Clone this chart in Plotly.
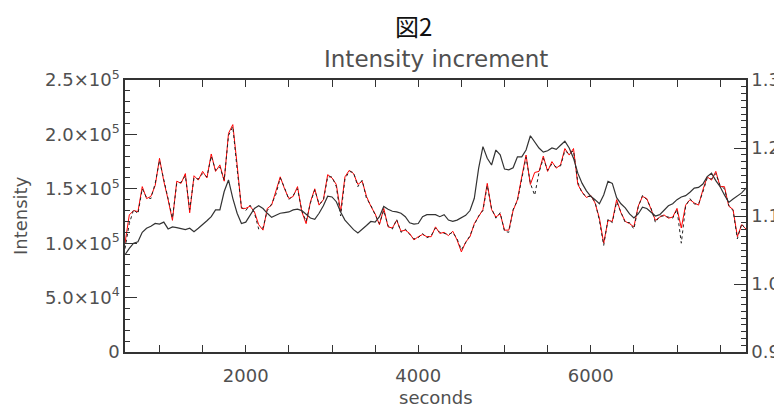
import plotly.graph_objects as go

# time sampling (seconds)
seconds = list(range(600, 7801, 50))

# noisy intensity (units of 1e3), red series
red_k = [
    100, 126, 130, 129, 152, 141, 143, 153, 178, 157,
    140, 121, 157, 155, 164, 128, 162, 158, 166, 160,
    182, 166, 172, 157, 201, 209, 172, 132, 132, 134,
    129, 117, 112, 132, 135, 147, 161, 150, 141, 143,
    152, 129, 118, 138, 150, 135, 140, 163, 160, 154,
    129, 161, 167, 164, 154, 157, 143, 134, 127, 117,
    132, 115, 114, 121, 111, 112, 109, 103, 106, 108,
    106, 106, 115, 109, 110, 107, 111, 103, 92, 101,
    106, 118, 124, 131, 155, 131, 124, 127, 112, 112,
    130, 140, 161, 181, 154, 165, 166, 180, 166, 175,
    169, 172, 187, 181, 187, 154, 147, 142, 144, 137,
    123, 100, 121, 120, 140, 128, 120, 118, 115, 134,
    143, 141, 131, 121, 124, 126, 123, 124, 132, 114,
    135, 140, 137, 135, 149, 161, 158, 166, 152, 152,
    134, 131, 106, 117, 113,
]

# noisy intensity (units of 1e3), black series
black_k = [
    95, 118, 131, 127, 150, 142, 141, 155, 176, 158,
    138, 123, 155, 156, 162, 131, 160, 159, 164, 161,
    180, 167, 170, 158, 199, 207, 168, 133, 130, 135,
    128, 113, 114, 130, 136, 145, 160, 151, 140, 144,
    150, 130, 120, 137, 149, 136, 139, 161, 161, 152,
    125, 159, 166, 165, 152, 158, 141, 135, 126, 118,
    130, 116, 113, 122, 110, 113, 108, 104, 105, 109,
    105, 107, 114, 110, 109, 108, 110, 104, 94, 100,
    107, 117, 125, 130, 153, 132, 123, 128, 111, 110,
    131, 139, 160, 179, 155, 144, 165, 178, 167, 173,
    170, 171, 185, 182, 185, 156, 146, 143, 143, 138,
    121, 98, 122, 119, 138, 129, 119, 119, 113, 133,
    144, 140, 132, 119, 125, 125, 124, 123, 131, 100,
    134, 141, 136, 136, 147, 160, 159, 164, 153, 150,
    135, 130, 104, 118, 112,
]

# smooth increment ratio (right axis)
ratio = [
    1.043, 1.0525, 1.060, 1.062, 1.076, 1.082, 1.085, 1.089, 1.088, 1.091,
    1.081, 1.084, 1.083, 1.082, 1.080, 1.082, 1.077, 1.082, 1.087, 1.093,
    1.099, 1.109, 1.109, 1.136, 1.153, 1.126, 1.104, 1.089, 1.091, 1.102,
    1.111, 1.115, 1.111, 1.104, 1.098, 1.101, 1.104, 1.105, 1.106, 1.109,
    1.110, 1.108, 1.103, 1.097, 1.095, 1.104, 1.115, 1.129, 1.128, 1.121,
    1.106, 1.094, 1.087, 1.080, 1.075, 1.080, 1.086, 1.092, 1.091, 1.099,
    1.114, 1.110, 1.107, 1.106, 1.104, 1.099, 1.090, 1.088, 1.089, 1.099,
    1.102, 1.102, 1.102, 1.099, 1.102, 1.094, 1.092, 1.094, 1.097, 1.101,
    1.108, 1.126, 1.170, 1.202, 1.185, 1.175, 1.197, 1.190, 1.169, 1.168,
    1.171, 1.187, 1.187, 1.197, 1.218, 1.209, 1.200, 1.194, 1.196, 1.200,
    1.198, 1.204, 1.210, 1.200, 1.185, 1.163, 1.148, 1.137, 1.129, 1.124,
    1.118, 1.131, 1.151, 1.148, 1.127, 1.118, 1.112, 1.103, 1.097, 1.103,
    1.113, 1.111, 1.105, 1.100, 1.102, 1.109, 1.115, 1.118, 1.124, 1.128,
    1.130, 1.135, 1.141, 1.142, 1.147, 1.158, 1.163, 1.152, 1.143, 1.131,
    1.120, 1.125, 1.129, 1.134, 1.141,
]

left_tickvals = [0, 50000, 100000, 150000, 200000, 250000]
left_ticktext = ["0", "5.0×10<sup>4</sup>", "1.0×10<sup>5</sup>",
                 "1.5×10<sup>5</sup>", "2.0×10<sup>5</sup>", "2.5×10<sup>5</sup>"]
right_tickvals = [0.9, 1.0, 1.1, 1.2, 1.3]
right_ticktext = ["0.9", "1.0", "1.1", "1.2", "1.3"]
x_tickvals = [2000, 4000, 6000]

red_v = [v * 1000 for v in red_k]
black_v = [v * 1000 for v in black_k]

FONT = "DejaVu Sans"
AX = "#333333"
TXT = "#505050"

fig = go.Figure()
fig.add_trace(go.Scatter(x=seconds, y=red_v, mode="lines",
                         line=dict(color="#ff0000", width=1), showlegend=False))
fig.add_trace(go.Scatter(x=seconds, y=black_v, mode="lines",
                         line=dict(color="#222222", width=1, dash="3px,3px"),
                         showlegend=False))
fig.add_trace(go.Scatter(x=seconds, y=ratio, mode="lines", yaxis="y2",
                         line=dict(color="#333333", width=1.2), showlegend=False))

fig.update_layout(
    width=782, height=407,
    margin=dict(l=117, r=44, t=72, b=63),
    paper_bgcolor="white", plot_bgcolor="white",
    font=dict(family=FONT, color=TXT, size=18),
    xaxis=dict(
        range=[600, 7800], showgrid=False, zeroline=False, automargin=False,
        showline=True, linecolor=AX, linewidth=1.5, mirror="allticks",
        ticks="inside", ticklen=7, tickwidth=1, tickcolor=AX,
        tickmode="array", tickvals=x_tickvals,
        ticklabelstandoff=7,
        minor=dict(tickmode="linear", tick0=0, dtick=500, ticks="inside",
                   ticklen=4, tickcolor=AX),
        tickfont=dict(size=18, color=TXT),
    ),
    yaxis=dict(
        range=[0, 250000], showgrid=False, zeroline=False, automargin=False,
        showline=True, linecolor=AX, linewidth=1.5, mirror=False,
        ticks="inside", ticklen=12, tickwidth=1, tickcolor=AX,
        tickmode="array", tickvals=left_tickvals, ticktext=left_ticktext,
        minor=dict(tickmode="linear", tick0=0, dtick=10000, ticks="inside",
                   ticklen=5, tickcolor=AX),
        tickfont=dict(size=18, color=TXT),
    ),
    yaxis2=dict(
        range=[0.9, 1.3], overlaying="y", side="right", anchor="x",
        showgrid=False, zeroline=False, automargin=False,
        showline=True, linecolor=AX, linewidth=1.5,
        ticks="inside", ticklen=12, tickwidth=1, tickcolor=AX,
        tickmode="array", tickvals=right_tickvals, ticktext=right_ticktext,
        minor=dict(tickmode="linear", tick0=0.9, dtick=0.01, ticks="inside",
                   ticklen=5, tickcolor=AX),
        tickfont=dict(size=18, color=TXT),
    ),
    annotations=[
        dict(text="図2", xref="paper", yref="paper", x=0.465, y=1.2,
             xanchor="center", yanchor="middle", showarrow=False,
             font=dict(family="Noto Sans CJK JP", size=24, color="#111111")),
        dict(text="Intensity increment", xref="paper", yref="paper", x=0.5, y=1.077,
             xanchor="center", yanchor="middle", showarrow=False,
             font=dict(family=FONT, size=23, color=TXT)),
        dict(text="seconds", xref="paper", yref="paper", x=0.5, y=-0.169,
             xanchor="center", yanchor="middle", showarrow=False,
             font=dict(family=FONT, size=18, color=TXT)),
        dict(text="Intensity", xref="paper", yref="paper", x=-0.169, y=0.5,
             xanchor="center", yanchor="middle", textangle=-90, showarrow=False,
             font=dict(family=FONT, size=18, color=TXT)),
    ],
)

fig.write_html("out.html")
